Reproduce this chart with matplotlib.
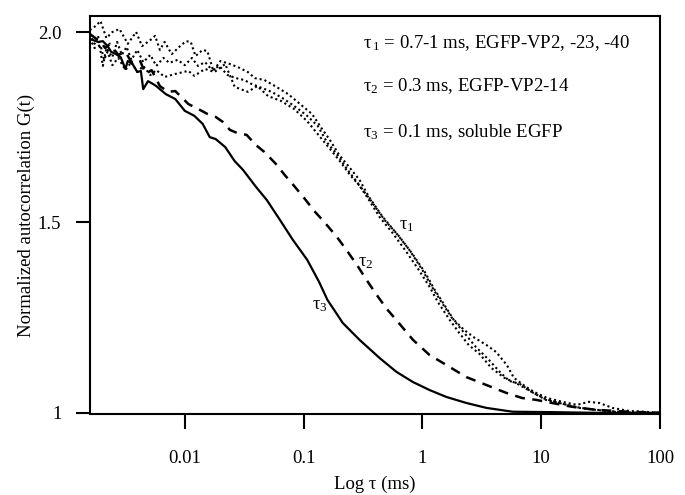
# plot.py
# FCS autocorrelation curves: EGFP-VP2 constructs vs soluble EGFP
#   solid = tau3, dashed = tau2, dotted = tau1 (three measurements)

import numpy as np
import matplotlib.pyplot as plt
from matplotlib.ticker import FixedLocator, FixedFormatter, NullLocator

plt.rcParams['font.family'] = ['Liberation Serif', 'DejaVu Serif']
plt.rcParams['mathtext.fontset'] = 'custom'
plt.rcParams['mathtext.rm'] = 'Liberation Serif'
plt.rcParams['mathtext.it'] = 'Liberation Serif:italic'
plt.rcParams['mathtext.default'] = 'rm'

# ── data (log10 tau in ms, normalized G) ─────────────────────────
# tau3 : soluble EGFP (solid)
log_tau3 = [-2.80, -2.73, -2.69, -2.65, -2.62, -2.58, -2.54, -2.50, -2.48, -2.44,
            -2.40, -2.37, -2.35, -2.31, -2.27, -2.24, -2.21, -2.16, -2.08, -2.00,
            -1.92, -1.85, -1.79, -1.74, -1.66, -1.58, -1.51, -1.40, -1.31, -1.20,
            -1.09, -0.97, -0.87, -0.80, -0.67, -0.53, -0.36, -0.22, -0.08, 0.06,
            0.20, 0.37, 0.54, 0.76, 1.07, 1.49, 2.00]
g_tau3 = [1.982, 1.974, 1.976, 1.963, 1.948, 1.942, 1.934, 1.903, 1.924, 1.916,
          1.895, 1.898, 1.850, 1.871, 1.864, 1.858, 1.850, 1.837, 1.824, 1.793,
          1.780, 1.759, 1.724, 1.719, 1.698, 1.661, 1.638, 1.593, 1.559, 1.507,
          1.454, 1.402, 1.344, 1.297, 1.236, 1.192, 1.144, 1.108, 1.081, 1.060,
          1.042, 1.026, 1.013, 1.003, 1.002, 1.000, 1.000]

# tau2 : EGFP-VP2-14 (dashed)
log_tau2 = [-2.80, -2.71, -2.67, -2.63, -2.56, -2.50, -2.45, -2.38, -2.33, -2.28,
            -2.21, -2.14, -2.08, -1.97, -1.87, -1.81, -1.74, -1.68, -1.62, -1.56,
            -1.48, -1.40, -1.33, -1.24, -1.16, -1.08, -0.99, -0.91, -0.82, -0.72,
            -0.64, -0.55, -0.47, -0.39, -0.30, -0.22, -0.08, 0.06, 0.20, 0.37,
            0.54, 0.71, 0.84, 0.96, 1.09, 1.26, 1.46, 1.74, 2.00]
g_tau2 = [1.995, 1.974, 1.958, 1.969, 1.940, 1.948, 1.921, 1.927, 1.890, 1.900,
          1.858, 1.843, 1.845, 1.811, 1.795, 1.785, 1.777, 1.764, 1.743, 1.735,
          1.730, 1.703, 1.685, 1.656, 1.625, 1.596, 1.562, 1.530, 1.499, 1.462,
          1.428, 1.388, 1.349, 1.312, 1.273, 1.244, 1.192, 1.152, 1.126, 1.094,
          1.073, 1.052, 1.039, 1.034, 1.026, 1.016, 1.008, 1.003, 1.000]

# tau1 : EGFP-VP2, -23, -40 (dotted, three curves)
log_tau1a = [-2.80, -2.75, -2.71, -2.66, -2.61, -2.55, -2.48, -2.41, -2.36, -2.29,
             -2.25, -2.21, -2.17, -2.11, -2.04, -1.99, -1.95, -1.91, -1.85, -1.81,
             -1.76, -1.70, -1.62, -1.54, -1.47, -1.41, -1.33, -1.24, -1.13, -1.03,
             -0.93, -0.85, -0.78, -0.70, -0.61, -0.53, -0.45, -0.34, -0.22, -0.11,
             0.00, 0.08, 0.16, 0.25, 0.35, 0.44, 0.54, 0.62, 0.71, 0.77,
             0.86, 0.94, 1.05, 1.18, 1.30, 1.40, 1.49, 1.60, 1.74, 1.87, 2.00]
g_tau1a = [2.005, 2.016, 2.029, 1.984, 2.000, 2.008, 1.969, 2.000, 1.963, 1.979,
           1.990, 1.953, 1.974, 1.942, 1.963, 1.976, 1.974, 1.937, 1.953, 1.950,
           1.898, 1.924, 1.916, 1.906, 1.895, 1.879, 1.874, 1.858, 1.837, 1.811,
           1.785, 1.748, 1.717, 1.677, 1.643, 1.612, 1.567, 1.517, 1.472, 1.428,
           1.375, 1.331, 1.291, 1.249, 1.218, 1.197, 1.178, 1.160, 1.126, 1.092,
           1.071, 1.055, 1.039, 1.029, 1.021, 1.029, 1.026, 1.013, 1.005, 1.003, 1.000]

log_tau1b = [-2.80, -2.76, -2.73, -2.69, -2.66, -2.61, -2.57, -2.53, -2.49, -2.45,
             -2.40, -2.35, -2.29, -2.24, -2.18, -2.13, -2.06, -2.00, -1.94, -1.89,
             -1.83, -1.77, -1.71, -1.64, -1.57, -1.50, -1.44, -1.35, -1.27, -1.18,
             -1.08, -0.97, -0.88, -0.80, -0.71, -0.63, -0.55, -0.46, -0.36, -0.25,
             -0.14, -0.03, 0.06, 0.13, 0.23, 0.31, 0.39, 0.48, 0.58, 0.69,
             0.80, 0.92, 1.03, 1.15, 1.28, 1.40, 1.57, 1.78, 2.00]
g_tau1b = [1.995, 1.969, 1.990, 1.911, 1.958, 1.934, 1.974, 1.940, 1.961, 1.927,
           1.953, 1.921, 1.940, 1.911, 1.932, 1.919, 1.927, 1.913, 1.932, 1.911,
           1.921, 1.900, 1.911, 1.887, 1.879, 1.874, 1.864, 1.853, 1.843, 1.827,
           1.806, 1.780, 1.753, 1.709, 1.675, 1.638, 1.606, 1.564, 1.514, 1.472,
           1.425, 1.375, 1.331, 1.291, 1.244, 1.210, 1.178, 1.155, 1.118, 1.092,
           1.076, 1.055, 1.037, 1.026, 1.016, 1.010, 1.005, 1.000, 1.000]

log_tau1c = [-2.80, -2.76, -2.71, -2.68, -2.65, -2.61, -2.56, -2.50, -2.45, -2.40,
             -2.35, -2.29, -2.24, -2.17, -2.08, -1.97, -1.92, -1.83, -1.75, -1.66,
             -1.58, -1.47, -1.39, -1.30, -1.19, -1.08, -0.97, -0.86, -0.77, -0.69,
             -0.61, -0.52, -0.43, -0.32, -0.20, -0.09, 0.02, 0.10, 0.18, 0.27,
             0.36, 0.45, 0.56, 0.65, 0.73, 0.82, 0.92, 1.04, 1.18, 1.32,
             1.46, 1.61, 1.82, 2.00]
g_tau1c = [1.984, 1.958, 1.966, 1.927, 1.948, 1.913, 1.932, 1.900, 1.921, 1.895,
           1.911, 1.887, 1.900, 1.882, 1.890, 1.898, 1.885, 1.903, 1.895, 1.916,
           1.856, 1.843, 1.858, 1.832, 1.819, 1.798, 1.766, 1.724, 1.690, 1.659,
           1.625, 1.593, 1.556, 1.507, 1.465, 1.420, 1.370, 1.325, 1.286, 1.241,
           1.207, 1.173, 1.139, 1.108, 1.084, 1.076, 1.055, 1.034, 1.024, 1.013,
           1.008, 1.003, 1.000, 1.000]

x_ticks = [0.01, 0.1, 1, 10, 100]
x_tick_labels = ['0.01', '0.1', '1', '10', '100']
y_ticks = [1.0, 1.5, 2.0]
y_tick_labels = ['1', '1.5', '2.0']

legend_lines = [r'$\mathrm{τ}_{\,1}$ = 0.7-1 ms, EGFP-VP2, -23, -40',
                r'$\mathrm{τ}_2$ = 0.3 ms, EGFP-VP2-14',
                r'$\mathrm{τ}_3$ = 0.1 ms, soluble EGFP']

FS = 13.5

# ── figure ───────────────────────────────────────────────────────
fig = plt.figure(figsize=(6.85, 4.95), dpi=100)
ax = fig.add_axes([0.1321, 0.1636, 0.8314, 0.8040])

ax.plot(10 ** np.array(log_tau3), g_tau3, color='black', lw=1.6)
ax.plot(10 ** np.array(log_tau2), g_tau2, color='black', lw=1.8, ls=(0, (4, 3)))
for lt, g in [(log_tau1a, g_tau1a), (log_tau1b, g_tau1b), (log_tau1c, g_tau1c)]:
    ax.plot(10 ** np.array(lt), g, color='black', lw=1.5, ls=(0, (1, 1.4)))

ax.set_xscale('log')
ax.set_xlim(10 ** -2.794, 100)
ax.set_ylim(0.997, 2.042)

ax.xaxis.set_major_locator(FixedLocator(x_ticks))
ax.xaxis.set_major_formatter(FixedFormatter(x_tick_labels))
ax.xaxis.set_minor_locator(NullLocator())
ax.yaxis.set_major_locator(FixedLocator(y_ticks))
ax.yaxis.set_major_formatter(FixedFormatter(y_tick_labels))

ax.tick_params(axis='x', direction='out', length=11, width=1.5, pad=15, labelsize=FS)
ax.tick_params(axis='y', direction='out', length=10, width=1.5, pad=11, labelsize=FS)
for sp in ax.spines.values():
    sp.set_linewidth(1.5)

ax.set_xlabel('Log τ (ms)', fontsize=FS, labelpad=6)
ax.set_ylabel('Normalized autocorrelation G(t)', fontsize=FS, labelpad=2)

# 범례 텍스트
for txt, yy in zip(legend_lines, [0.932, 0.824, 0.7085]):
    ax.text(0.4785, yy, txt, transform=ax.transAxes, fontsize=FS, va='center', ha='left')

# 곡선 라벨
ax.text(10 ** -0.20, 1.493, r'$\mathrm{τ}_1$', fontsize=FS, va='center')
ax.text(10 ** -0.54, 1.394, r'$\mathrm{τ}_2$', fontsize=FS, va='center')
ax.text(10 ** -0.93, 1.283, r'$\mathrm{τ}_3$', fontsize=FS, va='center')

plt.savefig('out.png', dpi=100)
